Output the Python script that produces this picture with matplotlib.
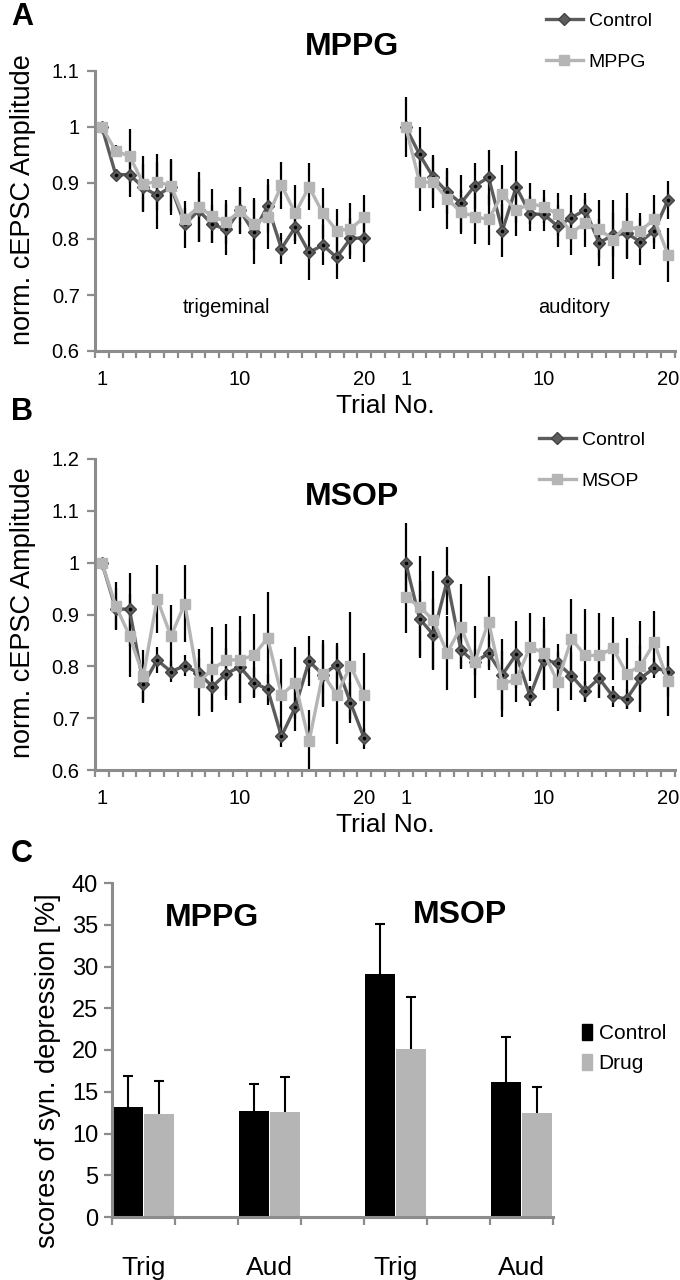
import numpy as np
import matplotlib
matplotlib.use('Agg')
import matplotlib.pyplot as plt
from matplotlib.lines import Line2D
from matplotlib.patches import Patch

plt.rcParams['font.family'] = ['Liberation Sans', 'DejaVu Sans']

# ---- data ----
trials = np.arange(1, 21)

# panel A (MPPG)
trig_ctrl_A = [1.0, 0.915, 0.915, 0.892, 0.878, 0.893, 0.826, 0.851, 0.826, 0.817,
               0.851, 0.812, 0.859, 0.783, 0.821, 0.776, 0.789, 0.767, 0.801, 0.802]
trig_ctrl_A_err = [0, 0.01, 0.04, 0.042, 0.06, 0.05, 0.042, 0.057, 0.034, 0.045,
                   0.041, 0.057, 0.049, 0.028, 0.03, 0.049, 0.036, 0.039, 0.037, 0.043]
trig_mppg = [1.0, 0.957, 0.948, 0.899, 0.902, 0.895, 0.836, 0.857, 0.841, 0.830,
             0.850, 0.827, 0.839, 0.896, 0.846, 0.893, 0.846, 0.815, 0.818, 0.839]
trig_mppg_err = [0, 0.01, 0.048, 0.05, 0.05, 0.045, 0.02, 0.063, 0.049, 0.039,
                 0.041, 0.047, 0.057, 0.042, 0.05, 0.042, 0.045, 0.039, 0.046, 0.039]
aud_ctrl_A = [1.0, 0.951, 0.910, 0.884, 0.864, 0.895, 0.910, 0.815, 0.893, 0.845,
              0.844, 0.823, 0.838, 0.852, 0.793, 0.807, 0.810, 0.795, 0.815, 0.870]
aud_ctrl_A_err = [0.054, 0.049, 0.04, 0.04, 0.051, 0.041, 0.049, 0.048, 0.065, 0.031,
                  0.03, 0.038, 0.04, 0.03, 0.042, 0.04, 0.045, 0.042, 0.033, 0.034]
aud_mppg = [1.0, 0.902, 0.901, 0.872, 0.848, 0.840, 0.835, 0.880, 0.851, 0.863,
            0.858, 0.844, 0.811, 0.829, 0.818, 0.799, 0.824, 0.815, 0.835, 0.772]
aud_mppg_err = [0, 0.052, 0.045, 0.055, 0.039, 0.049, 0.046, 0.052, 0.045, 0.037,
                0.03, 0.039, 0.039, 0.043, 0.052, 0.07, 0.058, 0.031, 0.043, 0.048]

# panel B (MSOP)
trig_ctrl_B = [1.0, 0.911, 0.910, 0.765, 0.812, 0.790, 0.801, 0.787, 0.761, 0.786,
               0.799, 0.768, 0.756, 0.665, 0.721, 0.810, 0.784, 0.803, 0.730, 0.661]
trig_ctrl_B_err = [0, 0.04, 0.07, 0.035, 0.025, 0.02, 0.02, 0.03, 0.05, 0.05,
                   0.07, 0.03, 0.03, 0.02, 0.045, 0.048, 0.06, 0.042, 0.039, 0.02]
trig_msop = [1.0, 0.917, 0.859, 0.781, 0.930, 0.858, 0.921, 0.769, 0.795, 0.812,
             0.813, 0.821, 0.855, 0.745, 0.768, 0.655, 0.786, 0.745, 0.801, 0.744]
trig_msop_err = [0, 0.045, 0.08, 0.05, 0.065, 0.06, 0.075, 0.065, 0.08, 0.07,
                 0.084, 0.08, 0.088, 0.069, 0.07, 0.061, 0.065, 0.094, 0.103, 0.082]
aud_ctrl_B = [1.0, 0.892, 0.861, 0.965, 0.831, 0.808, 0.825, 0.784, 0.823, 0.743,
              0.813, 0.806, 0.782, 0.752, 0.777, 0.742, 0.737, 0.777, 0.797, 0.790]
aud_ctrl_B_err = [0.077, 0.072, 0.068, 0.066, 0.034, 0.07, 0.032, 0.068, 0.065, 0.02,
                  0.059, 0.037, 0.046, 0.02, 0.039, 0.02, 0.02, 0.065, 0.02, 0.05]
aud_msop = [0.934, 0.915, 0.889, 0.826, 0.876, 0.808, 0.886, 0.766, 0.775, 0.837,
            0.826, 0.770, 0.853, 0.821, 0.821, 0.835, 0.786, 0.801, 0.846, 0.771]
aud_msop_err = [0.07, 0.098, 0.095, 0.072, 0.082, 0.025, 0.088, 0.063, 0.043, 0.066,
                0.069, 0.057, 0.076, 0.089, 0.082, 0.061, 0.069, 0.086, 0.06, 0.066]

# panel C
groups = ['Trig', 'Aud', 'Trig', 'Aud']
ctrl_score = [13.2, 12.7, 29.1, 16.2]
ctrl_score_err = [3.7, 3.2, 6.0, 5.4]
drug_score = [12.3, 12.6, 20.1, 12.5]
drug_score_err = [4.0, 4.2, 6.2, 3.1]

# ---- style ----
W, H = 680, 1280
DARK = '#5c5c5c'
LIGHT = '#b5b5b5'
AXC = '#8c8c8c'

fig = plt.figure(figsize=(W / 100, H / 100), dpi=100)


def box(l, t, r, b):
    return [l / W, 1 - b / H, (r - l) / W, (b - t) / H]


def style_axes(ax):
    for s in ['top', 'right']:
        ax.spines[s].set_visible(False)
    for s in ['left', 'bottom']:
        ax.spines[s].set_color(AXC)
        ax.spines[s].set_linewidth(2.2)
    ax.tick_params(colors=AXC, labelcolor='black')


def trial_panel(ax, data, ylim, yticks, ylabels):
    (tc, tce, td, tde, ac, ace, ad, ade) = data
    left = trials - 1
    right = trials - 1 + 22
    for xs, c, ce, d, de in [(left, tc, tce, td, tde), (right, ac, ace, ad, ade)]:
        ax.errorbar(xs, c, yerr=ce, fmt='none', ecolor='black', elinewidth=1.6, zorder=1)
        ax.errorbar(xs, d, yerr=de, fmt='none', ecolor='black', elinewidth=1.6, zorder=1)
        ax.plot(xs, c, color=DARK, lw=2.4, marker='D', ms=6.5, mfc=DARK,
                mec='#444444', zorder=2)
        ax.plot(xs, c, ls='none', marker='o', ms=1.6, color='black', zorder=2.5)
        ax.plot(xs, d, color=LIGHT, lw=2.4, marker='s', ms=7.5, mfc=LIGHT,
                mec=LIGHT, zorder=3)
    ax.set_xlim(-0.5, 41.5)
    ax.set_ylim(*ylim)
    ax.set_yticks(yticks)
    ax.set_yticklabels(ylabels, fontsize=14.5)
    ax.set_xticks([0, 10, 19, 22, 32, 41])
    ax.set_xticklabels(['1', '10', '20', '1', '10', '20'], fontsize=14.5)
    ax.set_xticks(np.arange(-0.5, 42, 1), minor=True)
    ax.tick_params(axis='x', which='major', length=0, pad=14)
    ax.tick_params(axis='x', which='minor', length=5, width=1.6, color=AXC)
    ax.tick_params(axis='y', length=6, width=1.6, pad=5)
    style_axes(ax)


# ---- panel A ----
axA = fig.add_axes(box(95, 71, 675, 351))
trial_panel(axA, (trig_ctrl_A, trig_ctrl_A_err, trig_mppg, trig_mppg_err,
                  aud_ctrl_A, aud_ctrl_A_err, aud_mppg, aud_mppg_err),
            (0.6, 1.1), [0.6, 0.7, 0.8, 0.9, 1.0, 1.1],
            ['0.6', '0.7', '0.8', '0.9', '1', '1.1'])
axA.text(9.0, 0.677, 'trigeminal', ha='center', va='center', fontsize=14.5)
axA.text(34.2, 0.677, 'auditory', ha='center', va='center', fontsize=14.5)

# ---- panel B ----
axB = fig.add_axes(box(95, 459, 675, 770))
trial_panel(axB, (trig_ctrl_B, trig_ctrl_B_err, trig_msop, trig_msop_err,
                  aud_ctrl_B, aud_ctrl_B_err, aud_msop, aud_msop_err),
            (0.6, 1.2), [0.6, 0.7, 0.8, 0.9, 1.0, 1.1, 1.2],
            ['0.6', '0.7', '0.8', '0.9', '1', '1.1', '1.2'])

# ---- panel C ----
axC = fig.add_axes(box(112, 883, 553, 1217))
pos = np.array([0, 2, 4, 6])
axC.bar(pos + 0.25, ctrl_score, width=0.48, color='black', label='Control', zorder=2)
axC.bar(pos + 0.75, drug_score, width=0.48, color=LIGHT, label='Drug', zorder=2)
# upper error bars only, cap at the top
for xs, vals, errs in [(pos + 0.25, ctrl_score, ctrl_score_err),
                       (pos + 0.75, drug_score, drug_score_err)]:
    tops = np.array(vals) + np.array(errs)
    axC.vlines(xs, vals, tops, color='black', lw=1.5, zorder=3)
    axC.plot(xs, tops, ls='none', marker='_', ms=7, mew=1.5, color='black', zorder=3)
axC.set_xlim(0, 7)
axC.set_ylim(0, 40)
axC.set_yticks(np.arange(0, 41, 5))
axC.set_yticklabels([str(v) for v in range(0, 41, 5)], fontsize=17)
axC.set_xticks(pos + 0.5)
axC.set_xticklabels(groups, fontsize=19)
axC.set_xticks(np.arange(0, 8), minor=True)
axC.tick_params(axis='x', which='major', length=0, pad=28)
axC.tick_params(axis='x', which='minor', length=6, width=1.6, color=AXC)
axC.tick_params(axis='y', length=6, width=1.6, pad=4)
style_axes(axC)

# ---- texts ----
def ftext(x, y, s, **kw):
    fig.text(x / W, 1 - y / H, s, ha='center', va='center', **kw)


ftext(22, 17, 'A', fontsize=22, fontweight='bold')
ftext(22, 412, 'B', fontsize=22, fontweight='bold')
ftext(22, 854, 'C', fontsize=22, fontweight='bold')
ftext(352, 47, 'MPPG', fontsize=23, fontweight='bold')
ftext(352, 497, 'MSOP', fontsize=23, fontweight='bold')
ftext(212, 918, 'MPPG', fontsize=23, fontweight='bold')
ftext(460, 915, 'MSOP', fontsize=23, fontweight='bold')
ftext(23, 200, 'norm. cEPSC Amplitude', fontsize=19.5, rotation=90)
ftext(23, 613, 'norm. cEPSC Amplitude', fontsize=19.5, rotation=90)
ftext(48, 1071, 'scores of syn. depression [%]', fontsize=19.5, rotation=90)
ftext(385, 406, 'Trial No.', fontsize=19)
ftext(385, 825, 'Trial No.', fontsize=19)

# ---- legends ----
def line_handles(label2):
    return [Line2D([], [], color=DARK, lw=2.4, marker='D', ms=6.5, mfc=DARK, mec='#444444'),
            Line2D([], [], color=LIGHT, lw=2.4, marker='s', ms=7.5, mfc=LIGHT, mec=LIGHT)], \
           ['Control', label2]


h, l = line_handles('MPPG')
fig.legend(h, l, loc='upper left', bbox_to_anchor=(546 / W, 1 - 12 / H), frameon=False,
           fontsize=14, handlelength=1.9, labelspacing=1.2, handletextpad=0.3,
           borderpad=0, borderaxespad=0)
h, l = line_handles('MSOP')
fig.legend(h, l, loc='upper left', bbox_to_anchor=(539 / W, 1 - 431 / H), frameon=False,
           fontsize=14, handlelength=1.9, labelspacing=1.2, handletextpad=0.3,
           borderpad=0, borderaxespad=0)
fig.legend([Patch(color='black'), Patch(color=LIGHT)], ['Control', 'Drug'],
           loc='upper left', bbox_to_anchor=(582 / W, 1 - 1024 / H), frameon=False,
           fontsize=15, handlelength=0.5, handleheight=0.8, labelspacing=0.5,
           handletextpad=0.3, borderpad=0, borderaxespad=0)

fig.savefig('out.png', dpi=100)
